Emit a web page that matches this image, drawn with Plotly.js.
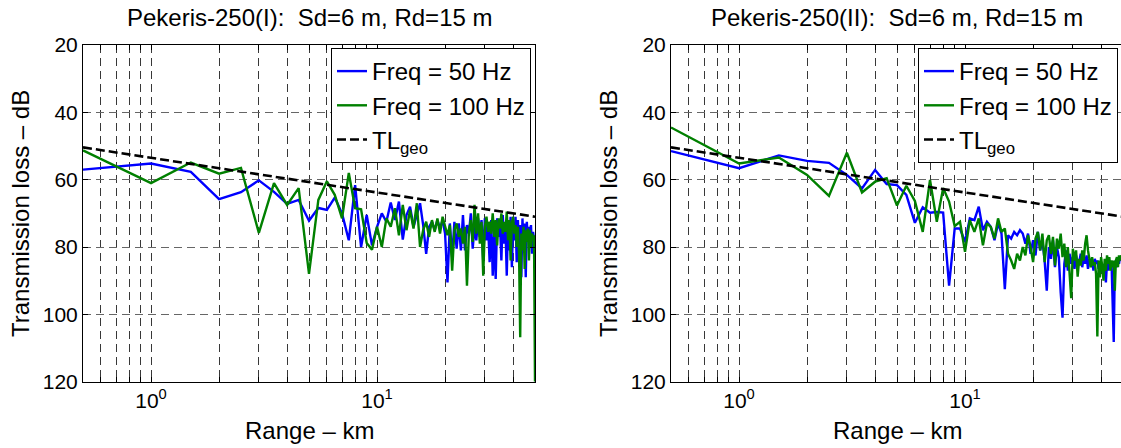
<!DOCTYPE html>
<html>
<head>
<meta charset="utf-8">
<script src="https://cdn.plot.ly/plotly-3.0.1.min.js"></script>
<style>
  html, body { margin: 0; padding: 0; background: #fff; overflow: hidden; }
  #chart { width: 1121px; height: 448px; }
</style>
</head>
<body>
<div id="chart"></div>
<script>
// Range samples (km), shared by every curve
const rangeKm = [0.5,1,1.5,2,2.5,3,3.5,4,4.5,5,5.5,6,6.5,7,7.5,8,8.5,9,9.5,10,
  10.5,11,11.5,12,12.5,13,13.5,14,14.5,15,15.5,16,16.5,17,17.5,18,18.5,19,19.5,20,
  20.5,21,21.5,22,22.5,23,23.5,24,24.5,25,25.5,26,26.5,27,27.5,28,28.5,29,29.5,30,
  30.5,31,31.5,32,32.5,33,33.5,34,34.5,35,35.5,36,36.5,37,37.5,38,38.5,39,39.5,40,
  40.5,41,41.5,42,42.5,43,43.5,44,44.5,45,45.5,46,46.5,47,47.5,48,48.5,49,49.5,50];

// Pekeris-250(I): transmission loss (dB)
const tlCase1_50Hz = [57.0,55.2,57.7,65.8,63.7,60.2,63.6,67.2,66.0,72.2,68.4,69.0,65.3,70.0,78.0,61.6,80.0,70.5,79.5,74.0,
  70.0,72.5,66.8,72.0,66.5,77.8,70.5,68.0,74.0,70.5,67.0,73.5,82.0,74.0,72.5,75.0,72.0,74.5,72.0,76.0,
  90.5,73.0,83.0,72.5,80.5,73.0,81.0,70.5,81.0,73.5,76.0,70.0,80.5,74.0,78.0,71.5,77.0,72.0,84.0,71.5,
  78.0,73.5,84.5,72.0,88.5,76.0,89.5,71.5,77.0,73.0,84.0,70.5,79.0,74.0,88.5,72.0,81.0,71.0,86.0,73.0,
  78.0,71.0,84.5,72.0,81.0,73.5,89.0,71.5,80.0,73.0,89.0,72.5,78.0,74.0,76.0,73.5,82.0,75.5,78.0,79.5];
const tlCase1_100Hz = [51.3,61.0,54.9,58.2,56.5,75.8,61.0,67.5,62.5,88.0,66.0,60.5,64.5,71.5,58.0,68.5,68.8,78.8,80.8,74.0,
  80.0,71.5,74.0,68.5,76.5,67.5,75.0,69.0,74.5,67.0,80.0,75.0,72.5,77.0,72.0,75.5,71.5,76.0,71.0,74.0,
  76.5,73.5,87.0,75.0,73.0,77.0,74.5,79.0,74.0,91.5,75.5,72.0,78.5,67.5,76.0,70.0,79.0,72.5,88.5,74.0,
  71.0,75.5,72.5,76.0,70.0,77.0,72.0,79.5,71.5,74.5,70.0,76.0,72.5,75.5,69.5,78.0,72.0,84.0,73.0,71.0,
  76.0,73.5,80.0,74.0,82.0,106.8,76.0,81.0,74.0,86.5,75.0,78.5,74.5,84.0,75.0,80.0,76.0,78.0,76.5,120.0];

// Pekeris-250(II): transmission loss (dB)
const tlCase2_50Hz = [51.5,56.6,52.8,54.4,55.0,58.6,62.6,57.1,61.3,61.6,64.5,72.8,68.2,69.8,69.6,69.8,91.5,74.5,74.5,78.5,
  71.5,72.0,68.0,75.0,72.5,74.0,78.0,73.0,76.0,92.5,76.5,77.5,75.5,76.5,75.0,76.0,79.0,76.0,82.0,78.0,
  82.5,75.5,81.0,78.0,84.0,93.0,80.0,83.5,78.0,86.0,80.0,83.0,93.5,101.0,85.0,81.0,87.0,82.0,85.0,83.0,
  86.5,82.5,85.0,84.5,82.0,86.0,83.0,85.0,82.5,86.5,83.5,85.0,84.0,87.0,83.5,85.0,84.0,86.5,85.0,87.5,
  85.0,88.0,86.0,90.5,84.5,87.0,84.5,86.5,85.0,95.0,108.2,85.5,84.0,86.0,83.5,85.0,83.0,84.0,83.5,84.0];
const tlCase2_100Hz = [44.5,55.2,53.4,58.6,64.8,52.0,63.8,60.6,59.6,67.7,61.8,66.3,75.5,60.1,72.5,62.5,66.5,73.8,72.5,81.4,
  72.0,75.5,71.5,79.5,73.0,74.0,77.5,71.5,75.5,74.5,82.0,84.0,86.5,82.0,84.0,80.0,82.5,76.5,80.0,84.5,
  77.5,75.5,81.0,76.0,84.5,78.0,76.5,82.0,77.0,85.5,77.5,80.5,76.0,83.0,79.0,86.0,80.0,88.0,95.2,80.5,
  84.0,81.0,88.8,83.5,85.5,81.0,84.0,79.0,76.5,81.0,84.0,86.0,83.0,85.5,84.5,88.0,106.6,84.0,89.0,83.0,
  86.0,90.0,83.5,87.0,82.5,85.0,83.0,87.0,84.0,86.0,84.0,93.0,84.0,83.0,86.0,82.5,84.0,82.5,83.0,82.0];

// Geometric spreading reference (dB)
const tlGeoRangeKm = [0.5, 1, 2, 5, 10, 20, 50];
const tlGeo = [50.4, 53.5, 56.6, 60.7, 63.8, 66.9, 71.0];

// Axis ticks / gridlines
const xMajorVals = [1, 10];
const xMajorText = ['10<sup>0</sup>', '10<sup>1</sup>'];
const xMinorVals = [0.6,0.7,0.8,0.9,2,3,4,5,6,7,8,9,20,30,40];
const yTickVals = [20, 40, 60, 80, 100, 120];

const titles = ['Pekeris-250(I):  Sd=6 m, Rd=15 m', 'Pekeris-250(II):  Sd=6 m, Rd=15 m'];
const seriesNames = ['Freq = 50 Hz', 'Freq = 100 Hz', 'TL<sub>geo</sub>'];

const FONT = 'Liberation Sans, Arial, Helvetica, sans-serif';
const W = 1121, H = 448;
const px = v => v / W;        // horizontal pixel -> paper
const py = v => 1 - v / H;    // vertical pixel (from top) -> paper

function curveTraces(xa, ya, leg, y50, y100) {
  return [
    {x: rangeKm, y: y50, type: 'scatter', mode: 'lines', name: seriesNames[0],
     xaxis: xa, yaxis: ya, legend: leg, line: {color: '#0000ff', width: 2.4}},
    {x: rangeKm, y: y100, type: 'scatter', mode: 'lines', name: seriesNames[1],
     xaxis: xa, yaxis: ya, legend: leg, line: {color: '#008000', width: 2.4}},
    {x: tlGeoRangeKm, y: tlGeo, type: 'scatter', mode: 'lines', name: seriesNames[2],
     xaxis: xa, yaxis: ya, legend: leg, line: {color: '#000000', width: 2.6, dash: '9px,4px'}}
  ];
}

const data = [
  ...curveTraces('x', 'y', 'legend', tlCase1_50Hz, tlCase1_100Hz),
  ...curveTraces('x2', 'y2', 'legend2', tlCase2_50Hz, tlCase2_100Hz)
];

const gridStyle = {gridcolor: '#383838', gridwidth: 1, griddash: '8px,5px'};

function xAxis(domain, range, anchor) {
  return Object.assign({
    type: 'log', domain: domain, range: range, anchor: anchor,
    tickmode: 'array', tickvals: xMajorVals, ticktext: xMajorText,
    ticks: 'inside', ticklen: 5, tickwidth: 1, tickcolor: '#000',
    showline: true, linecolor: '#000', linewidth: 1, mirror: 'ticks',
    showgrid: true, zeroline: false, tickangle: 0,
    tickfont: {family: FONT, size: 21, color: '#000'},
    minor: Object.assign({
      tickmode: 'array', tickvals: xMinorVals,
      ticks: 'inside', ticklen: 5, tickwidth: 1, tickcolor: '#000',
      showgrid: true
    }, gridStyle)
  }, gridStyle);
}
function yAxis(domain, anchor, mirror) {
  return {
    domain: domain, range: [120, 20], anchor: anchor,
    tickmode: 'array', tickvals: yTickVals,
    ticks: 'inside', ticklen: 5, tickwidth: 1, tickcolor: '#000',
    showline: true, linecolor: '#000', linewidth: 1, mirror: mirror,
    showgrid: true, gridcolor: '#666', gridwidth: 1, griddash: '8px,5px',
    zeroline: false,
    tickfont: {family: FONT, size: 21, color: '#000'}
  };
}

const yDom = [1 - 381.7 / H, 1 - 45 / H];
const leftDom = [px(83), px(535)];
const rightDom = [px(671), 1];
const logMin = Math.log10(0.5);

function legendBox(xRight) {
  return {
    x: px(xRight), xanchor: 'right', y: py(48), yanchor: 'top',
    bgcolor: '#fff', bordercolor: '#000', borderwidth: 1,
    font: {family: FONT, size: 24, color: '#000'},
    itemwidth: 30, tracegroupgap: 0
  };
}

const ann = (text, x, y, opts) => Object.assign({
  text: text, x: x, y: y, xref: 'paper', yref: 'paper', showarrow: false,
  xanchor: 'center', yanchor: 'middle',
  font: {family: FONT, size: 24, color: '#000'}
}, opts || {});

const layout = {
  width: W, height: H,
  margin: {l: 0, r: 0, t: 0, b: 0, pad: 0},
  paper_bgcolor: '#fff', plot_bgcolor: '#fff',
  showlegend: true,
  xaxis: xAxis(leftDom, [logMin, Math.log10(50)], 'y'),
  yaxis: yAxis(yDom, 'x', 'ticks'),
  xaxis2: xAxis(rightDom, [logMin, logMin + 2 * 450 / 452], 'y2'),
  yaxis2: yAxis(yDom, 'x2', false),
  legend: legendBox(531),
  legend2: legendBox(1118),
  annotations: [
    ann(titles[0], px(309), py(18)),
    ann(titles[1], px(897), py(18)),
    ann('Range – km', px(309), py(430)),
    ann('Range – km', px(897), py(430)),
    ann('Transmission loss – dB', px(20), py(214), {textangle: -90}),
    ann('Transmission loss – dB', px(608), py(214), {textangle: -90})
  ]
};

Plotly.newPlot('chart', data, layout, {staticPlot: true, displayModeBar: false});
</script>
</body>
</html>
